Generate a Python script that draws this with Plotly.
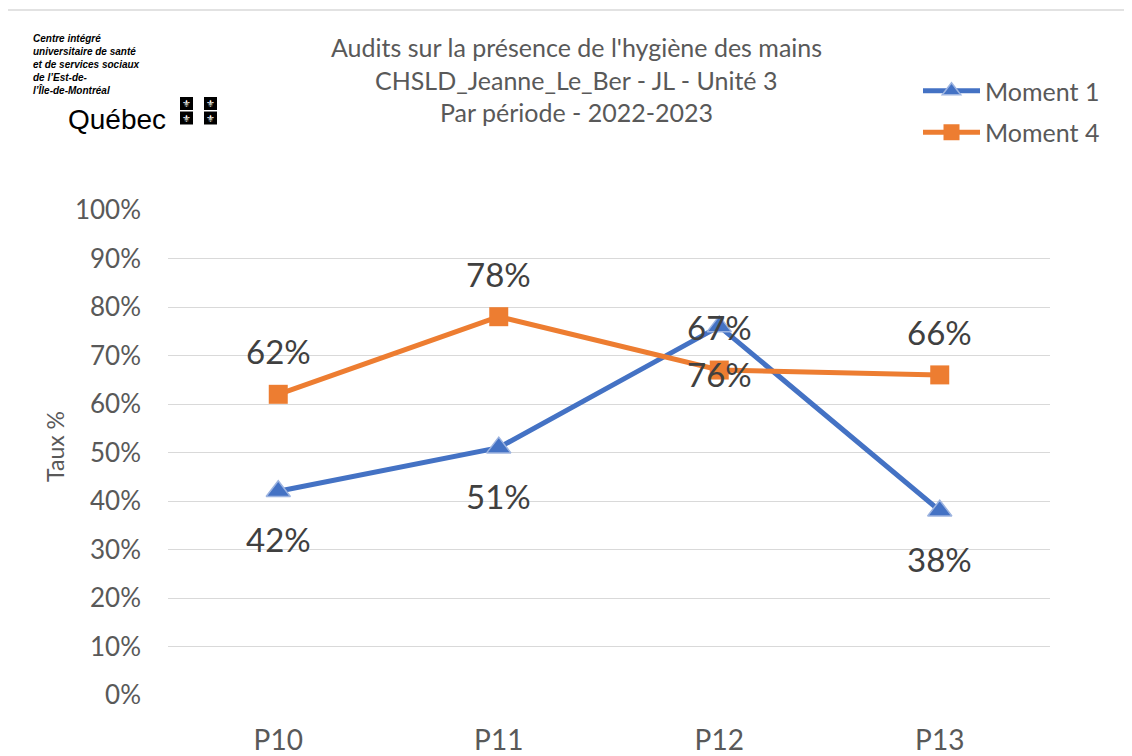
import plotly.graph_objects as go

periods = ["P10", "P11", "P12", "P13"]
moment1 = [0.42, 0.51, 0.76, 0.38]
moment4 = [0.62, 0.78, 0.67, 0.66]
moment1_labels = ["42%", "51%", "76%", "38%"]
moment4_labels = ["62%", "78%", "67%", "66%"]
y_ticks = [i / 10 for i in range(11)]
y_tick_labels = [f"{i*10}%" for i in range(11)]

title_lines = ["Audits sur la présence de l'hygiène des mains",
               "CHSLD_Jeanne_Le_Ber - JL - Unité 3",
               "Par période - 2022-2023"]
logo_lines = ["Centre intégré", "universitaire de santé", "et de services sociaux",
              "de l’Est-de-", "l’Île-de-Montréal"]

BLUE = "#4472C4"
ORANGE = "#ED7D31"
FONT = "Lato, Calibri, Carlito, sans-serif"

fig = go.Figure()
fig.add_trace(go.Scatter(
    x=periods, y=moment1, name="Moment 1", mode="lines+markers",
    line=dict(color=BLUE, width=5),
    marker=dict(symbol="triangle-up", size=21, color=BLUE,
                line=dict(color="#9DB4E0", width=1.5)),
    legendgroup="a"))
fig.add_trace(go.Scatter(
    x=periods, y=moment4, name="Moment 4", mode="lines+markers",
    line=dict(color=ORANGE, width=5),
    marker=dict(symbol="square", size=19, color=ORANGE),
    legendgroup="b"))

W, H = 1132, 756
OFF = 8  # page offset of the figure in the browser
# screen-space plot area: x 168..1050, y 210..695
L, T = 168 - OFF, 210 - OFF
R = W - (1050 - OFF)
B = H - (695 - OFF)
pw, ph = W - L - R, H - T - B

def px(x):
    return (x - OFF - L) / pw

def py(y):
    return (H - B - (y - OFF)) / ph

annotations = []
for p, v, t in zip(periods, moment1, moment1_labels):
    annotations.append(dict(x=p, y=v, text=t, showarrow=False, yshift=-48,
                            font=dict(size=33, color="#404040", family=FONT)))
for p, v, t in zip(periods, moment4, moment4_labels):
    annotations.append(dict(x=p, y=v, text=t, showarrow=False, yshift=43,
                            font=dict(size=33, color="#404040", family=FONT)))

for i, line in enumerate(title_lines):
    annotations.append(dict(xref="paper", yref="paper", x=px(576), y=py(47 + i * 32.5),
                            text=line, showarrow=False, xanchor="center", yanchor="middle",
                            font=dict(size=25, color="#595959", family=FONT)))

annotations.append(dict(xref="paper", yref="paper", x=px(55), y=py(446),
                        text="Taux %", showarrow=False, textangle=-90,
                        xanchor="center", yanchor="middle",
                        font=dict(size=23, color="#595959", family=FONT)))

annotations.append(dict(xref="paper", yref="paper", x=px(31), y=py(31),
                        text="<br>".join(f"<b><i>{line}</i></b>" for line in logo_lines),
                        showarrow=False, xanchor="left", yanchor="top", align="left",
                        font=dict(size=10, color="#000000", family="Liberation Sans, Arial")))
annotations.append(dict(xref="paper", yref="paper", x=px(66), y=py(119),
                        text="Québec", showarrow=False, xanchor="left", yanchor="middle",
                        font=dict(size=28, color="#000000", family="Liberation Sans, Arial")))

shapes = []
for cx, cy in [(186.5, 103.5), (210.5, 103.5), (186.5, 118), (210.5, 118)]:
    shapes.append(dict(type="rect", xref="paper", yref="paper",
                       x0=px(cx - 6.5), x1=px(cx + 6.5), y0=py(cy + 6.5), y1=py(cy - 6.5),
                       fillcolor="#000000", line=dict(width=0)))
    annotations.append(dict(xref="paper", yref="paper", x=px(cx), y=py(cy),
                            text="⚜", showarrow=False, xanchor="center", yanchor="middle",
                            font=dict(size=10, color="#FFFFFF", family="DejaVu Sans")))

# chart border
shapes.append(dict(type="rect", xref="paper", yref="paper",
                   x0=px(3), x1=px(1300), y0=py(900), y1=py(10),
                   line=dict(color="#D9D9D9", width=1.5), fillcolor="rgba(0,0,0,0)",
                   layer="below"))

fig.update_layout(
    width=W, height=H,
    margin=dict(l=L, r=R, t=T, b=B),
    plot_bgcolor="white", paper_bgcolor="white",
    font=dict(family=FONT, color="#595959"),
    showlegend=True,
    legend=dict(x=px(918), y=py(68), xanchor="left", yanchor="top",
                font=dict(size=25, color="#595959", family=FONT),
                itemwidth=57, tracegroupgap=6, traceorder="grouped",
                bgcolor="rgba(0,0,0,0)"),
    xaxis=dict(showgrid=False, zeroline=False, showline=False,
               tickfont=dict(size=28, color="#595959"), ticks="",
               ticklabelstandoff=26, range=[-0.5, 3.5]),
    yaxis=dict(range=[0, 1.0], tickvals=y_ticks, ticktext=y_tick_labels,
               showgrid=True, gridcolor="#D9D9D9", gridwidth=1, zeroline=False,
               tickfont=dict(size=26, color="#595959"), ticks="",
               ticklabelstandoff=26),
    annotations=annotations,
    shapes=shapes,
)
fig.update_yaxes(automargin=False)
fig.update_xaxes(automargin=False)

fig.write_html("out.html")
